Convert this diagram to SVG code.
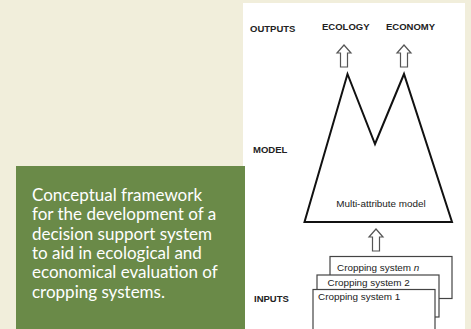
<svg xmlns="http://www.w3.org/2000/svg" width="471" height="329" viewBox="0 0 471 329">
  <style>
    .lbl { font-family: "Liberation Sans", Arial, sans-serif; font-weight: bold; font-size: 9.5px; fill: #222; }
    .txt { font-family: "Liberation Sans", Arial, sans-serif; font-size: 9.9px; fill: #1a1a1a; }
    .cap { font-family: Lato, "Open Sans", sans-serif; font-size: 17px; fill: #ffffff; }
    .box { fill: #ffffff; stroke: #444; stroke-width: 1.2; }
    .arr { fill: #ffffff; stroke: #555; stroke-width: 1.2; stroke-linejoin: miter; }
    .model { fill: none; stroke: #111; stroke-width: 2; stroke-linejoin: miter; }
  </style>
  <defs>
    <path id="uparrow" class="arr" d="M0,0 L7,8 L3.5,8 L3.5,22 L-3.5,22 L-3.5,8 L-7,8 Z"/>
  </defs>
  <rect width="471" height="329" fill="#f1eedb"/>
  <rect id="panel" x="243" y="3" width="222" height="326" fill="#ffffff"/>

  <g id="labels">
    <text class="lbl" x="250" y="32">OUTPUTS</text>
    <text class="lbl" x="253" y="153">MODEL</text>
    <text class="lbl" x="254" y="302">INPUTS</text>
  </g>

  <g id="ecology">
    <text class="lbl" x="322" y="30">ECOLOGY</text>
  </g>
  <g id="economy">
    <text class="lbl" x="386" y="30">ECONOMY</text>
  </g>

  <g id="model">
    <path class="model" d="M304.5,222 L347.5,74 L375,144 L404,74 L452,222 Z"/>
    <text class="txt" x="381" y="207" text-anchor="middle">Multi-attribute model</text>
  </g>

  <g id="cropping-n">
    <rect class="box" x="330" y="256.5" width="122" height="42"/>
    <text class="txt" x="337" y="271">Cropping system <tspan font-style="italic">n</tspan></text>
  </g>
  <g id="cropping-2">
    <rect class="box" x="317" y="275" width="122" height="42"/>
    <text class="txt" x="327.5" y="285.5">Cropping system 2</text>
  </g>
  <g id="cropping-1">
    <rect class="box" x="313" y="289.5" width="122" height="45"/>
    <text class="txt" x="318" y="299.5">Cropping system 1</text>
  </g>

  <g id="connectors">
    <use href="#uparrow" x="344" y="45"/>
    <use href="#uparrow" x="404" y="45"/>
    <use href="#uparrow" x="376" y="229"/>
  </g>

  <g id="caption">
    <rect x="16" y="166" width="229" height="163" fill="#6a8a48"/>
    <text class="cap" x="32" y="201">Conceptual framework</text>
    <text class="cap" x="32" y="220">for the development of a</text>
    <text class="cap" x="32" y="239.5">decision support system</text>
    <text class="cap" x="32" y="258.5">to aid in ecological and</text>
    <text class="cap" x="32" y="277.5">economical evaluation of</text>
    <text class="cap" x="32" y="297.5">cropping systems.</text>
  </g>
</svg>
